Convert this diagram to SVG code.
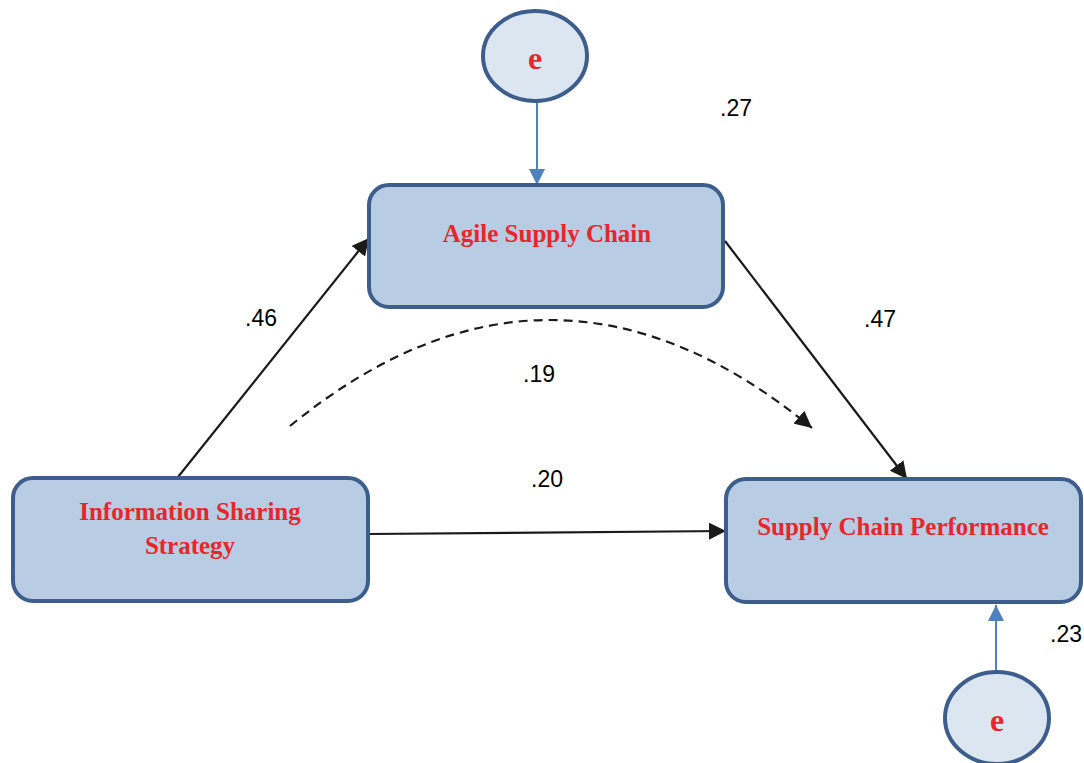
<svg xmlns="http://www.w3.org/2000/svg" width="1084" height="763" viewBox="0 0 1084 763">
<style>
.box{fill:#b8cce4;stroke:#3d5e8c;stroke-width:4}
.err{fill:#dce6f1;stroke:#3d5e8c;stroke-width:4}
.nt{font-family:"Liberation Serif","Times New Roman",serif;font-weight:bold;font-size:25px;fill:#e8262a;text-anchor:middle}
.et{font-family:"Liberation Serif","Times New Roman",serif;font-weight:bold;font-size:32px;fill:#e8262a;text-anchor:middle}
.lbl{font-family:"Liberation Sans",Arial,sans-serif;font-size:23px;fill:#000;text-anchor:middle}
.blk{stroke:#1a1a1a;stroke-width:2.2;fill:none}
.blu{stroke:#4f81bd;stroke-width:2;fill:none}
</style>
<defs>
<marker id="ab2" viewBox="0 0 10 10" refX="10" refY="5" markerWidth="17" markerHeight="17" markerUnits="userSpaceOnUse" orient="auto"><path d="M0,0 L10,5 L0,10 z" fill="#1a1a1a"/></marker>
<marker id="au" viewBox="0 0 10 10" refX="10" refY="5" markerWidth="16" markerHeight="16" markerUnits="userSpaceOnUse" orient="auto"><path d="M0,0 L10,5 L0,10 z" fill="#4f81bd"/></marker>
</defs>
<g id="connectors">
<line class="blu" x1="537" y1="102" x2="537" y2="185" marker-end="url(#au)"/>
<line class="blu" x1="996" y1="671" x2="996" y2="605" marker-end="url(#au)"/>
<line class="blk" x1="178" y1="477" x2="369" y2="238" marker-end="url(#ab2)"/>
<line class="blk" x1="725" y1="241" x2="907" y2="479" marker-end="url(#ab2)"/>
<line class="blk" x1="369" y1="534" x2="726" y2="531" marker-end="url(#ab2)"/>
<path class="blk" d="M290,426 Q551,213 812,428" stroke-dasharray="9,6" marker-end="url(#ab2)"/>
</g>
<g id="e1"><ellipse class="err" cx="535" cy="56" rx="52" ry="45"/><text class="et" x="535" y="69">e</text></g>
<g id="asc"><rect class="box" x="369" y="185" width="354" height="122" rx="20"/><text class="nt" x="547" y="242">Agile Supply Chain</text></g>
<g id="iss"><rect class="box" x="13" y="478" width="355" height="123" rx="20"/><text class="nt" x="190" y="520">Information Sharing</text><text class="nt" x="190" y="554">Strategy</text></g>
<g id="scp"><rect class="box" x="726" y="479" width="355" height="123" rx="20"/><text class="nt" x="903" y="535">Supply Chain Performance</text></g>
<g id="e2"><ellipse class="err" cx="997" cy="718" rx="52" ry="46"/><text class="et" x="997" y="731">e</text></g>
<g id="labels">
<text class="lbl" x="736" y="116">.27</text>
<text class="lbl" x="261" y="326">.46</text>
<text class="lbl" x="880" y="327">.47</text>
<text class="lbl" x="539" y="382">.19</text>
<text class="lbl" x="547" y="487">.20</text>
<text class="lbl" x="1066" y="642">.23</text>
</g>
</svg>
